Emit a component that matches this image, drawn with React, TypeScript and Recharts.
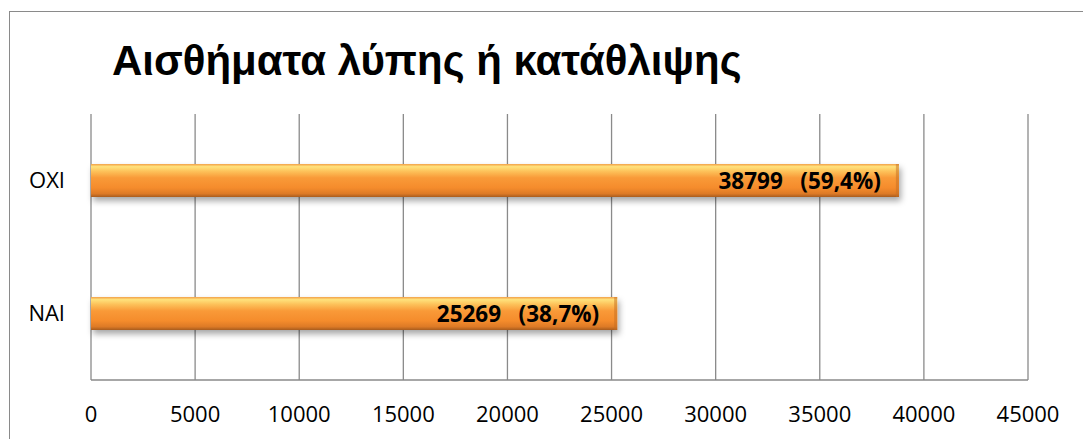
import React from "react";
import { BarChart, Bar, XAxis, YAxis, CartesianGrid, LabelList } from "recharts";

const categories = ["ΟΧΙ", "ΝΑΙ"];
const values = [38799, 25269];
const percents = ["59,4%", "38,7%"];
const xTicks = [0, 5000, 10000, 15000, 20000, 25000, 30000, 35000, 40000, 45000];
const title = "Αισθήματα λύπης ή κατάθλιψης";

const data = categories.map((c, i) => ({ name: c, value: values[i], pct: percents[i] }));

const FONT = "'Open Sans', 'DejaVu Sans', sans-serif";

const BarShape = (props: any) => {
  const { x, y, width, height } = props;
  if (!width || width <= 0) return null;
  return (
    <g>
      <rect x={x} y={y} width={width} height={height} fill="url(#orangeGrad)" filter="url(#barShadow)" />
      <rect x={x} y={y} width={width} height={height} fill="url(#orangeGrad)" />
      <rect x={x + width - 3} y={y} width={3} height={height} fill="#C46E22" opacity={0.5} />
    </g>
  );
};

const ValueLabel = (props: any) => {
  const { x, y, width, height, index } = props;
  const txt = `${values[index]}   (${percents[index]})`;
  return (
    <text
      x={x + width - 18}
      y={y + height / 2}
      dy="0.36em"
      textAnchor="end"
      fontFamily={FONT}
      fontWeight={700}
      fontSize={22.5}
      fill="#000"
      style={{ whiteSpace: "pre" }}
    >
      {txt}
    </text>
  );
};

export default function App() {
  return (
    <div style={{ position: "absolute", left: 0, top: 0, width: 1083, height: 439, overflow: "hidden", background: "#fff" }}>
      <div
        style={{
          position: "absolute",
          left: 9,
          top: 11,
          width: 1200,
          height: 600,
          border: "1.5px solid #8a8a8a",
          boxSizing: "border-box",
        }}
      />
      <div
        style={{
          position: "absolute",
          left: 112,
          top: 36,
          fontFamily: "'Liberation Sans', Arial, sans-serif",
          fontWeight: 700,
          fontSize: 42,
          lineHeight: "50px",
          color: "#000",
          whiteSpace: "nowrap",
        }}
      >
        {title}
      </div>
      <div style={{ position: "absolute", left: 0, top: 0 }}>
        <BarChart
          width={1083}
          height={439}
          data={data}
          layout="vertical"
          margin={{ top: 114, right: 55, bottom: 0, left: 0 }}
          barCategoryGap={0}
        >
          <defs>
            <linearGradient id="orangeGrad" x1="0" y1="0" x2="0" y2="1">
              <stop offset="0%" stopColor="#F2A048" />
              <stop offset="8%" stopColor="#FFE27C" />
              <stop offset="22%" stopColor="#FDC25A" />
              <stop offset="42%" stopColor="#F99A38" />
              <stop offset="72%" stopColor="#F58C2C" />
              <stop offset="90%" stopColor="#DD7A26" />
              <stop offset="100%" stopColor="#A85C1E" />
            </linearGradient>
            <filter id="barShadow" x="-5%" y="-30%" width="110%" height="200%">
              <feDropShadow dx="2" dy="4" stdDeviation="3" floodColor="#000" floodOpacity="0.35" />
            </filter>
          </defs>
          <CartesianGrid horizontal={false} vertical={true} stroke="#8a8a8a" strokeWidth={1.3} />
          <XAxis
            type="number"
            dataKey="value"
            domain={[0, 45000]}
            ticks={xTicks}
            interval={0}
            height={59}
            tickLine={false}
            tickSize={0}
            tickMargin={26}
            axisLine={{ stroke: "#8a8a8a", strokeWidth: 1.3 }}
            tick={{ fill: "#000", fontSize: 22, fontFamily: FONT }}
          />
          <YAxis
            type="category"
            dataKey="name"
            width={91}
            axisLine={false}
            tickLine={false}
            tickSize={0}
            tickMargin={26}
            tick={{ fill: "#000", fontSize: 22, fontFamily: FONT }}
          />
          <Bar dataKey="value" barSize={33} isAnimationActive={false} shape={<BarShape />}>
            <LabelList dataKey="value" content={<ValueLabel />} />
          </Bar>
        </BarChart>
      </div>
    </div>
  );
}
